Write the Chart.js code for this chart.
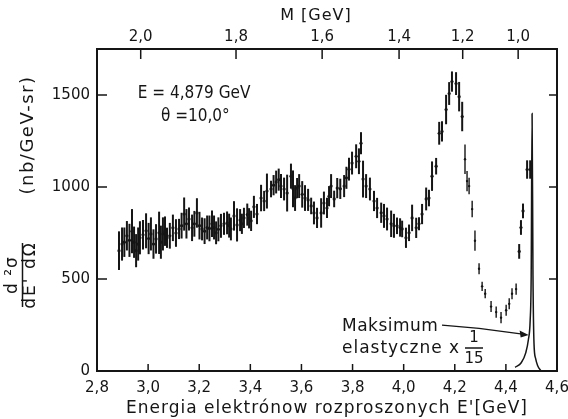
<!DOCTYPE html>
<html>
<head>
<meta charset="utf-8">
<script src="https://cdn.jsdelivr.net/npm/chart.js@4.4.1/dist/chart.umd.min.js"></script>
<style>
  html, body { margin: 0; padding: 0; background: #fff; }
  #wrap { width: 568px; height: 419px; }
</style>
</head>
<body>
<div id="wrap"><canvas id="widmo" width="568" height="419"></canvas></div>
<script>
// E' [GeV] of the scattered electrons, cross section [nb/GeV-sr] and its error
const energies = [
  2.886, 2.898, 2.907, 2.917, 2.927, 2.937, 2.945, 2.953, 2.961, 2.968,
  2.980, 2.992, 3.002, 3.011, 3.021, 3.031, 3.043, 3.050, 3.058, 3.066,
  3.074, 3.085, 3.097, 3.109, 3.121, 3.131, 3.141, 3.150, 3.160, 3.172,
  3.181, 3.191, 3.201, 3.211, 3.221, 3.231, 3.240, 3.250, 3.258, 3.266,
  3.275, 3.285, 3.297, 3.309, 3.317, 3.324, 3.336, 3.348, 3.360, 3.367,
  3.375, 3.388, 3.395, 3.403, 3.414, 3.426, 3.442, 3.454, 3.465, 3.481,
  3.491, 3.501, 3.511, 3.520, 3.532, 3.544, 3.559, 3.567, 3.575, 3.583,
  3.591, 3.603, 3.614, 3.626, 3.638, 3.649, 3.661, 3.677, 3.688, 3.700,
  3.708, 3.716, 3.728, 3.740, 3.752, 3.767, 3.776, 3.786, 3.798, 3.814,
  3.825, 3.833, 3.841, 3.853, 3.868, 3.884, 3.896, 3.912, 3.923, 3.935,
  3.951, 3.962, 3.974, 3.986, 3.994, 4.009, 4.021, 4.033, 4.049, 4.060,
  4.072, 4.088, 4.099, 4.111, 4.127, 4.139, 4.150, 4.166, 4.178, 4.189,
  4.205, 4.217, 4.229, 4.240, 4.248, 4.256, 4.268, 4.279, 4.295, 4.307,
  4.319, 4.342, 4.362, 4.381, 4.401, 4.413, 4.424, 4.440, 4.452, 4.459,
  4.467, 4.483, 4.495
]
const sigma = [
  654, 690, 700, 735, 710, 760, 700, 654, 690, 724,
  740, 762, 720, 745, 690, 718, 751, 700, 745, 760,
  724, 735, 778, 750, 772, 790, 853, 800, 826, 778,
  800, 859, 790, 772, 760, 780, 775, 800, 780, 751,
  770, 789, 800, 805, 790, 772, 843, 794, 820, 800,
  832, 850, 830, 816, 892, 853, 940, 924, 978, 989,
  1010, 1027, 1040, 1005, 989, 967, 1059, 990, 940, 994,
  1005, 960, 940, 930, 897, 859, 832, 859, 913, 886,
  950, 1005, 935, 994, 990, 1005, 1050, 1097, 1130, 1167,
  1140, 1238, 1043, 1005, 989, 924, 886, 860, 843, 826,
  800, 789, 789, 780, 772, 724, 751, 832, 778, 800,
  853, 935, 940, 1059, 1113, 1292, 1302, 1421, 1508, 1573,
  1562, 1491, 1383, 1151, 1032, 1005, 880, 708, 556, 460,
  420, 350, 320, 290, 330, 365, 420, 445, 650, 780,
  870, 1095, 1095
]
const errors = [
  105, 90, 80, 80, 90, 120, 85, 90, 90, 90,
  80, 95, 85, 90, 80, 80, 115, 90, 90, 80,
  55, 70, 72, 75, 55, 70, 90, 80, 62, 72,
  70, 80, 75, 62, 70, 65, 70, 72, 65, 62,
  65, 65, 60, 62, 65, 62, 80, 90, 60, 55,
  55, 60, 55, 55, 60, 55, 72, 55, 95, 45,
  55, 62, 60, 65, 62, 100, 68, 100, 70, 55,
  65, 72, 70, 60, 45, 62, 55, 80, 62, 55,
  55, 65, 45, 55, 55, 60, 60, 62, 62, 65,
  70, 60, 100, 65, 62, 55, 55, 55, 65, 62,
  72, 65, 45, 50, 45, 55, 45, 72, 55, 35,
  55, 62, 45, 80, 45, 62, 55, 80, 62, 55,
  62, 80, 80, 80, 55, 45, 45, 55, 30, 25,
  25, 30, 30, 30, 30, 30, 30, 30, 40, 40,
  40, 50, 50
]

// elastic peak (scaled x 1/15)
const elasticE = [4.436, 4.460, 4.478, 4.488, 4.495, 4.499, 4.5025, 4.506, 4.510, 4.516, 4.524, 4.538]
const elasticSigma = [20, 45, 100, 170, 275, 520, 1400, 520, 150, 70, 30, 0]

const xTicks = [2.8, 3.0, 3.2, 3.4, 3.6, 3.8, 4.0, 4.2, 4.4, 4.6]
const yTicks = [0, 500, 1000, 1500]
// top axis: invariant mass M, placed at the matching E'
const mTickPos = [2.971, 3.344, 3.681, 3.982, 4.231, 4.448]
const mTickLabels = ["2,0", "1,8", "1,6", "1,4", "1,2", "1,0"]

const FONT = "'DejaVu Sans', sans-serif"
const FONT_NARROW = "'DejaVu Sans Condensed', 'DejaVu Sans', sans-serif"
const INK = "#151515"
Chart.defaults.font.family = FONT
Chart.defaults.font.size = 15
Chart.defaults.color = INK

function text(ctx, s, x, y, font, align, spacing) {
  ctx.font = font
  ctx.letterSpacing = spacing || "0px"
  ctx.textAlign = align || "center"
  ctx.textBaseline = "middle"
  ctx.fillText(s, x, y)
}

function line(ctx, x1, y1, x2, y2) {
  ctx.beginPath()
  ctx.moveTo(x1, y1)
  ctx.lineTo(x2, y2)
  ctx.stroke()
}

// the sparse points after the 1.2 GeV peak are printed thinner
const isSparse = e => e > 4.235 && e < 4.445

//* frame, inward ticks, error bars and the labels
const frame = {
  id: "frame",
  beforeDatasetsDraw(chart) {
    const {ctx, scales: {x, y}} = chart
    ctx.save()
    ctx.strokeStyle = INK
    energies.forEach((e, i) => {
      const px = x.getPixelForValue(e)
      ctx.lineWidth = isSparse(e) ? 1.4 : 2
      line(ctx, px, y.getPixelForValue(sigma[i] - errors[i]), px, y.getPixelForValue(sigma[i] + errors[i]))
    })
    ctx.restore()
  },
  afterDraw(chart) {
    const {ctx, chartArea: a, scales: {x, y, x2}} = chart
    ctx.save()
    ctx.strokeStyle = INK
    ctx.fillStyle = INK
    ctx.lineWidth = 2
    ctx.strokeRect(a.left, a.top, a.right - a.left, a.bottom - a.top)
    ctx.lineWidth = 1.5
    xTicks.forEach(v => {
      const px = x.getPixelForValue(v)
      line(ctx, px, a.bottom, px, a.bottom - 7)
    })
    mTickPos.forEach(v => {
      const px = x2.getPixelForValue(v)
      line(ctx, px, a.top, px, a.top + 10)
    })
    yTicks.slice(1).forEach(v => {
      const py = y.getPixelForValue(v)
      line(ctx, a.left, py, a.left + 10, py)
      line(ctx, a.right, py, a.right - 8, py)
    })

    // axis titles
    text(ctx, "Energia elektrónow rozproszonych E'[GeV]", x.getPixelForValue(3.70), 409, "17px " + FONT, "center", "1px")
    text(ctx, "M [GeV]", x.getPixelForValue(3.657), 16, "16px " + FONT, "center", "1px")

    ctx.save()
    ctx.translate(28, 135)
    ctx.rotate(-Math.PI / 2)
    text(ctx, "(nb/GeV-sr)", 0, 0, "18px " + FONT, "center", "1.5px")
    ctx.restore()
    ctx.save()
    ctx.translate(0, 275)
    ctx.rotate(-Math.PI / 2)
    text(ctx, "d ²σ", 0, 13, "17px " + FONT, "center", "1px")
    text(ctx, "dE' dΩ", 0, 31, "17px " + FONT, "center", "2px")
    ctx.lineWidth = 1.5
    line(ctx, -32, 22.5, 32, 22.5)
    ctx.restore()

    // beam info
    text(ctx, "E = 4,879 GeV", x.getPixelForValue(3.18), y.getPixelForValue(1508), "17px " + FONT_NARROW, "center")
    text(ctx, "θ =10,0°", x.getPixelForValue(3.185), y.getPixelForValue(1384), "17px " + FONT_NARROW, "center")

    // elastic peak note
    text(ctx, "Maksimum", 342, 327, "17px " + FONT, "left", "0.5px")
    text(ctx, "elastyczne x", 342, 349, "17px " + FONT, "left", "1px")
    text(ctx, "1", 474, 338, "15px " + FONT, "center")
    text(ctx, "15", 474, 359, "15px " + FONT, "center")
    line(ctx, 465, 348, 483, 348)

    ctx.lineWidth = 1.2
    ctx.beginPath()
    ctx.moveTo(x.getPixelForValue(4.150), y.getPixelForValue(249))
    ctx.lineTo(x.getPixelForValue(4.295), y.getPixelForValue(232))
    const tipX = x.getPixelForValue(4.489), tipY = y.getPixelForValue(195)
    ctx.lineTo(tipX - 6, tipY - 1)
    ctx.stroke()
    ctx.beginPath()
    ctx.moveTo(tipX, tipY)
    ctx.lineTo(tipX - 9, tipY - 4.5)
    ctx.lineTo(tipX - 8, tipY + 2.5)
    ctx.closePath()
    ctx.fill()
    ctx.restore()
  }
}

const noPad = s => { s.paddingLeft = 0; s.paddingRight = 0; s.paddingTop = 0; s.paddingBottom = 0 }

const chart = new Chart(document.querySelector("#widmo"), {
  type: "scatter",
  data: {
    datasets: [
      {
        label: "dane",
        data: energies.map((e, i) => ({x: e, y: sigma[i]})),
        pointRadius: ctx => isSparse(energies[ctx.dataIndex]) ? 1.2 : 1.6,
        pointBackgroundColor: INK,
        pointBorderWidth: 0
      },
      {
        type: "line",
        label: "elastyczne",
        data: elasticE.map((e, i) => ({x: e, y: elasticSigma[i]})),
        borderColor: INK,
        borderWidth: 1.5,
        pointRadius: 0,
        cubicInterpolationMode: "monotone"
      }
    ]
  },
  options: {
    responsive: false,
    animation: false,
    devicePixelRatio: 1,
    layout: {padding: 0},
    plugins: {legend: {display: false}, tooltip: {enabled: false}},
    scales: {
      x: {
        type: "linear", position: "bottom", min: 2.8, max: 4.6,
        afterBuildTicks: s => { s.ticks = xTicks.map(v => ({value: v})) },
        afterFit: s => { s.height = 48; noPad(s) },
        grid: {display: false, drawTicks: false}, border: {display: false},
        ticks: {padding: 8, autoSkip: false, maxRotation: 0, callback: v => v.toFixed(1).replace(".", ",")}
      },
      x2: {
        type: "linear", position: "top", min: 2.8, max: 4.6,
        afterBuildTicks: s => { s.ticks = mTickPos.map(v => ({value: v})) },
        afterFit: s => { s.height = 49; noPad(s) },
        grid: {display: false, drawTicks: false}, border: {display: false},
        ticks: {padding: 3, autoSkip: false, maxRotation: 0, callback: (v, i) => mTickLabels[i]}
      },
      y: {
        type: "linear", position: "left", min: 0, max: 1750,
        afterBuildTicks: s => { s.ticks = yTicks.map(v => ({value: v})) },
        afterFit: s => { s.width = 97; noPad(s) },
        grid: {display: false, drawTicks: false}, border: {display: false},
        ticks: {padding: 7, callback: v => String(v)}
      },
      y2: {
        type: "linear", position: "right", min: 0, max: 1750,
        afterFit: s => { s.width = 11; noPad(s) },
        grid: {display: false, drawTicks: false}, border: {display: false},
        ticks: {display: false}
      }
    }
  },
  plugins: [frame]
})
</script>
</body>
</html>
